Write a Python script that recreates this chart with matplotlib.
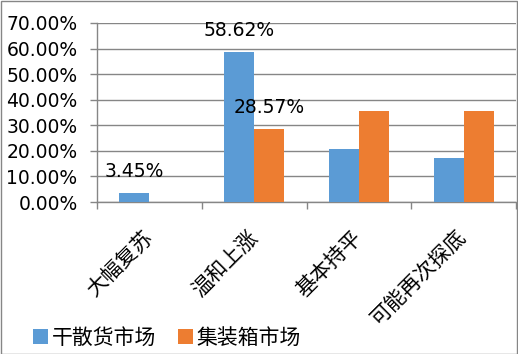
import matplotlib
matplotlib.use("Agg")
import matplotlib.pyplot as plt
from matplotlib.patches import Rectangle
import numpy as np

plt.rcParams['font.family'] = ['DejaVu Sans', 'Noto Sans CJK SC']

categories = ['大幅复苏', '温和上涨', '基本持平', '可能再次探底']
series_names = ['干散货市场', '集装箱市场']
dry_bulk = [0.0345, 0.5862, 0.2069, 0.1724]
container = [0.0, 0.2857, 0.3571, 0.3571]
yticks = [0.0, 0.1, 0.2, 0.3, 0.4, 0.5, 0.6, 0.7]
# labels shown in the reference: (series index, category index)
shown_labels = [(0, 0), (0, 1), (1, 1)]

blue = '#5B9BD5'
orange = '#ED7D31'
grid_c = '#868686'

fig = plt.figure(figsize=(5.18, 3.54), dpi=100)
ax = fig.add_axes([97/518, 1-202/354, (516-97)/518, (202-23)/354])

x = np.arange(len(categories))
w = 0.2857
b1 = ax.bar(x - w/2, dry_bulk, w, color=blue, label=series_names[0], zorder=3)
b2 = ax.bar(x + w/2, container, w, color=orange, label=series_names[1], zorder=3)

series = [dry_bulk, container]
offs = [-w/2, w/2]
for s, c in shown_labels:
    v = series[s][c]
    ax.annotate(f'{v*100:.2f}%', (x[c] + offs[s], v), xytext=(0, 8.5),
                textcoords='offset points', ha='center', va='bottom',
                fontsize=13.5, color='black', zorder=5)

ax.set_xlim(-0.5, 3.5)
ax.set_ylim(0, 0.7)
ax.set_yticks(yticks)
ax.set_yticklabels([f'{t*100:.2f}%' for t in yticks], fontsize=13.5)
ax.yaxis.grid(True, color=grid_c, linewidth=1.0, zorder=0)
ax.set_axisbelow(True)

ax.set_xticks(x)
ax.set_xticklabels(categories, rotation=45, ha='right', va='center',
                   rotation_mode='anchor',
                   fontsize=15, family=['Noto Sans CJK SC', 'DejaVu Sans'])
ax.tick_params(axis='x', length=0, pad=23)
ax.set_xticks([-0.5, 0.5, 1.5, 2.5, 3.5], minor=True)
ax.tick_params(axis='x', which='minor', length=5, color=grid_c, width=1)
ax.tick_params(axis='y', length=5, color=grid_c, width=1, pad=9)

for sp in ['top', 'right']:
    ax.spines[sp].set_visible(False)
for sp in ['left', 'bottom']:
    ax.spines[sp].set_color(grid_c)
    ax.spines[sp].set_linewidth(1.0)

leg = fig.legend(handles=[b1, b2], labels=series_names, loc='center left',
                 bbox_to_anchor=(33/518, 1-338/354), ncol=2, frameon=False,
                 prop={'family': ['Noto Sans CJK SC', 'DejaVu Sans'], 'size': 15},
                 handlelength=0.7, handleheight=0.7, handletextpad=0.2,
                 columnspacing=1.05, borderpad=0, borderaxespad=0)

fig.patches.append(Rectangle((0.5/518, 0.5/354), 516/518, 352.5/354,
                             transform=fig.transFigure, fill=False,
                             edgecolor=grid_c, linewidth=1.0))

fig.savefig('out.png', dpi=100)
